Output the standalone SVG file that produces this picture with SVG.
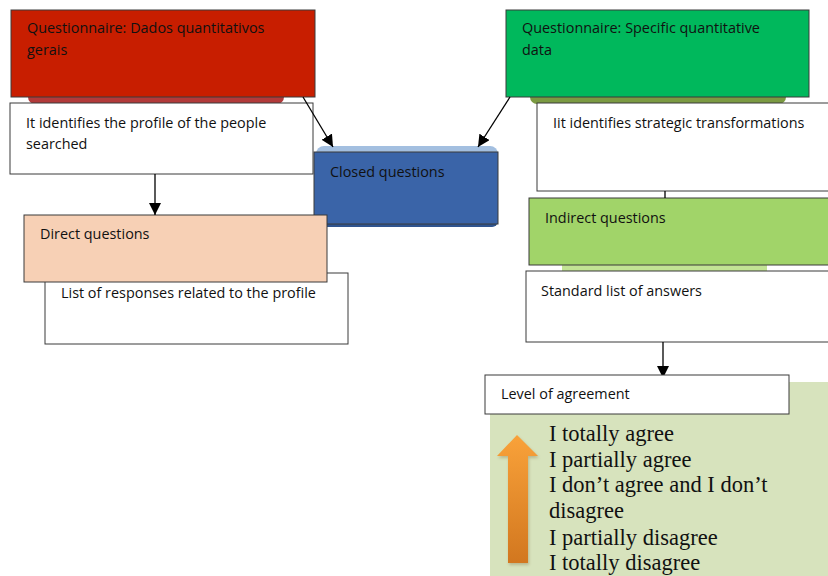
<svg xmlns="http://www.w3.org/2000/svg" width="828" height="576" viewBox="0 0 828 576">
<defs>
<style>
.box{stroke:#3a3a3a;stroke-width:1}
.lbl{font-family:"Open Sans","Liberation Sans",sans-serif;font-size:14.4px;fill:#111}
.ser{font-family:"Liberation Serif","Times New Roman",serif;font-size:22.5px;fill:#111}
.con{stroke:#000;stroke-width:1.3;fill:none}
</style>
<marker id="ah" viewBox="0 0 10 10" refX="10" refY="5" markerWidth="12" markerHeight="12" markerUnits="userSpaceOnUse" orient="auto">
<path d="M0,0 L10,5 L0,10 z" fill="#000"/>
</marker>
<linearGradient id="og" x1="0" y1="0" x2="0" y2="1">
<stop offset="0" stop-color="#f9a23a"/>
<stop offset="1" stop-color="#d2771f"/>
</linearGradient>
<filter id="sh" x="-30%" y="-10%" width="160%" height="120%">
<feGaussianBlur stdDeviation="1.5"/>
</filter>
</defs>
<rect width="828" height="576" fill="#fff"/>

<g id="scale-bg">
<rect x="490" y="382" width="338" height="194" fill="#d7e3bd"/>
</g>

<g id="node-red">
<rect x="28" y="90" width="256" height="14" rx="7" fill="#b23a3a"/>
<rect class="box" x="11" y="10" width="304" height="87" fill="#c81e00"/>
<text class="lbl" x="27" y="33">Questionnaire: Dados quantitativos</text>
<text class="lbl" x="27" y="55">gerais</text>
</g>

<g id="node-green">
<rect x="530" y="90" width="256" height="14" rx="7" fill="#7b9a42"/>
<rect class="box" x="506" y="10" width="303" height="87" fill="#00b85c"/>
<text class="lbl" x="522" y="33">Questionnaire: Specific quantitative</text>
<text class="lbl" x="522" y="55">data</text>
</g>

<g id="node-profile">
<rect class="box" x="10" y="103" width="303" height="71" fill="#fff"/>
<text class="lbl" x="26" y="128">It identifies the profile of the people</text>
<text class="lbl" x="26" y="149">searched</text>
</g>

<g id="node-closed">
<rect x="316" y="146" width="182" height="81" rx="8" fill="#a3bfe0"/>
<rect x="316" y="214" width="182" height="13" rx="6" fill="#2f548f"/>
<rect class="box" x="314" y="152" width="184" height="72" fill="#3a64a8"/>
<text class="lbl" x="330" y="177">Closed questions</text>
</g>

<g id="node-strategic">
<rect class="box" x="537" y="103" width="295" height="88" fill="#fff"/>
<text class="lbl" x="553" y="128">Iit identifies strategic transformations</text>
</g>

<g id="node-list">
<rect class="box" x="45" y="273" width="303" height="71" fill="#fff"/>
<text class="lbl" x="61" y="298">List of responses related to the profile</text>
</g>

<g id="node-direct">
<rect class="box" x="24" y="215" width="303" height="67" fill="#f7d0b5"/>
<text class="lbl" x="40" y="239">Direct questions</text>
</g>

<g id="node-indirect">
<rect x="562" y="262" width="205" height="10" fill="#c2e394"/>
<rect class="box" x="529" y="198" width="303" height="67" fill="#a1d469"/>
<text class="lbl" x="545" y="223">Indirect questions</text>
</g>

<g id="node-standard">
<rect class="box" x="526" y="271" width="306" height="71" fill="#fff"/>
<text class="lbl" x="541" y="296">Standard list of answers</text>
</g>

<g id="connectors">
<line class="con" x1="303" y1="97" x2="333" y2="147" marker-end="url(#ah)"/>
<line class="con" x1="510" y1="97" x2="478" y2="147" marker-end="url(#ah)"/>
<line class="con" x1="155" y1="174" x2="155" y2="215" marker-end="url(#ah)"/>
<line class="con" x1="665" y1="191" x2="665" y2="198"/>
<line class="con" x1="663" y1="342" x2="663" y2="378" marker-end="url(#ah)"/>
</g>

<g id="node-level">
<rect class="box" x="485" y="375" width="304" height="39" fill="#fff"/>
<text class="lbl" x="501" y="399">Level of agreement</text>
</g>

<g id="scale-arrow">
<path d="M517,435 L538,456 L528,456 L528,563 L508,563 L508,456 L497,456 z" fill="#9a8a60" opacity="0.5" filter="url(#sh)" transform="translate(1,2)"/>
<path d="M517,435 L538,456 L528,456 L528,563 L508,563 L508,456 L497,456 z" fill="url(#og)"/>
</g>

<g id="scale-text">
<text class="ser" x="549" y="441">I totally agree</text>
<text class="ser" x="549" y="467">I partially agree</text>
<text class="ser" x="549" y="492">I don’t agree and I don’t</text>
<text class="ser" x="549" y="518">disagree</text>
<text class="ser" x="549" y="545">I partially disagree</text>
<text class="ser" x="549" y="570">I totally disagree</text>
</g>
</svg>
